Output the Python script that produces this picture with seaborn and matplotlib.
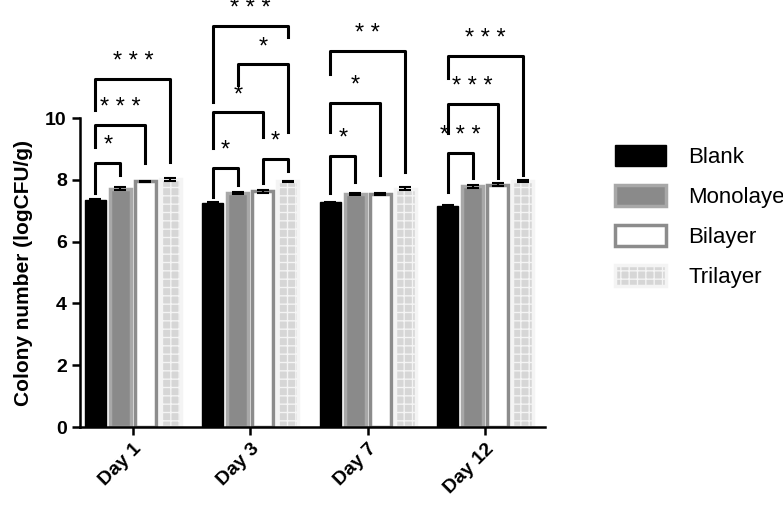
import pandas as pd
import seaborn as sns
import matplotlib.pyplot as plt
from matplotlib.patches import Patch

plt.rcParams['font.family'] = 'Liberation Sans'

days = ['Day 1', 'Day 3', 'Day 7', 'Day 12']
groups = ['Blank', 'Monolayer', 'Bilayer', 'Trilayer']
blank = [7.35, 7.25, 7.28, 7.15]
mono = [7.72, 7.58, 7.55, 7.79]
bi = [7.95, 7.63, 7.53, 7.85]
tri = [8.02, 7.95, 7.72, 7.97]
err = [[0.04, 0.03, 0.02, 0.04], [0.04, 0.03, 0.04, 0.05],
       [0.03, 0.04, 0.03, 0.05], [0.04, 0.03, 0.04, 0.03]]

# brackets: (day, group a, group b, top, left leg bottom, right leg bottom, label)
brackets = [
    (0, 0, 1, 8.54, 7.57, 8.15, '*'),
    (0, 0, 2, 9.77, 9.06, 8.54, '***'),
    (0, 0, 3, 11.26, 10.26, 8.58, '***'),
    (1, 0, 1, 8.38, 7.45, 7.83, '*'),
    (1, 2, 3, 8.67, 7.90, 8.30, '*'),
    (1, 0, 2, 10.19, 9.03, 9.38, '*'),
    (1, 1, 3, 11.74, 11.07, 9.55, '*'),
    (1, 0, 3, 12.98, 10.52, 12.62, '***'),
    (2, 0, 1, 8.77, 7.57, 7.93, '*'),
    (2, 0, 2, 10.49, 9.55, 8.15, '*'),
    (2, 0, 3, 12.17, 11.42, 8.25, '**'),
    (3, 0, 1, 8.87, 7.60, 8.06, '***'),
    (3, 0, 2, 10.45, 9.51, 8.06, '***'),
    (3, 0, 3, 12.00, 11.29, 8.15, '***'),
]

rows = []
for g, vals in zip(groups, [blank, mono, bi, tri]):
    for d, v in zip(days, vals):
        rows.append({'day': d, 'group': g, 'value': v})
df = pd.DataFrame(rows)

styles = {
    'Blank': dict(fc='black', ec='black', hatch=None),
    'Monolayer': dict(fc='#8a8a8a', ec='#a8a8a8', hatch=None),
    'Bilayer': dict(fc='white', ec='#8c8c8c', hatch=None),
    'Trilayer': dict(fc='#d6d6d6', ec='#f4f4f4', hatch='++'),
}

fig = plt.figure(figsize=(7.83, 5.16), dpi=100)
ax = fig.add_axes([80 / 783, 89 / 516, 465 / 783, 417 / 516])
sns.barplot(data=df, x='day', y='value', hue='group', order=days, hue_order=groups,
            width=0.85, gap=0.15, errorbar=None, ax=ax, legend=False)

offsets = [-0.319, -0.106, 0.106, 0.319]
for gi, g in enumerate(groups):
    st = styles[g]
    cont = ax.containers[gi]
    for di, bar in enumerate(cont):
        bar.set_facecolor(st['fc'])
        bar.set_edgecolor(st['ec'])
        bar.set_linewidth(2.5 if g != 'Blank' else 1)
        if st['hatch']:
            bar.set_hatch(st['hatch'])
        cx = bar.get_x() + bar.get_width() / 2
        ax.errorbar(cx, bar.get_height(), yerr=err[gi][di], color='black',
                    capsize=4, lw=1.5, capthick=1.5)

for d, a, b, top, la, lb, lab in brackets:
    xa = d + offsets[a]
    xb = d + offsets[b]
    ax.plot([xa, xa, xb, xb], [la, top, top, lb], color='black', lw=2.2, clip_on=False)
    ax.text((xa + xb) / 2, top + 0.2, ' '.join(lab), ha='center', va='bottom',
            fontsize=17, clip_on=False)

ax.set_ylim(0, 13.5)
ax.set_xlim(-0.45, 3.51)
ax.set_yticks([0, 2, 4, 6, 8, 10])
ax.spines['left'].set_bounds(0, 10)
ax.spines['top'].set_visible(False)
ax.spines['right'].set_visible(False)
for s in ['left', 'bottom']:
    ax.spines[s].set_linewidth(1.8)
ax.tick_params(width=1.8, length=6, labelsize=14)
ax.set_xticks(range(4))
ax.set_xticklabels(days, rotation=45, ha='right', rotation_mode='anchor', fontweight='bold')
for t in ax.get_yticklabels():
    t.set_fontweight('bold')
ax.set_xlabel('')
ax.set_ylabel('Colony number (logCFU/g)', fontsize=15, fontweight='bold')
ax.yaxis.set_label_coords(-0.1, 0.37)

handles = [Patch(facecolor=styles[g]['fc'], edgecolor=styles[g]['ec'], hatch=styles[g]['hatch'],
                 linewidth=2.5 if g != 'Blank' else 1) for g in groups]
fig.legend(handles, groups, loc='upper left', bbox_to_anchor=(595 / 783, 1 - 125 / 516),
           frameon=False, fontsize=16, handlelength=2.3, handleheight=1.1, labelspacing=0.75,
           handletextpad=1.0)

fig.savefig('out.png', dpi=100)
